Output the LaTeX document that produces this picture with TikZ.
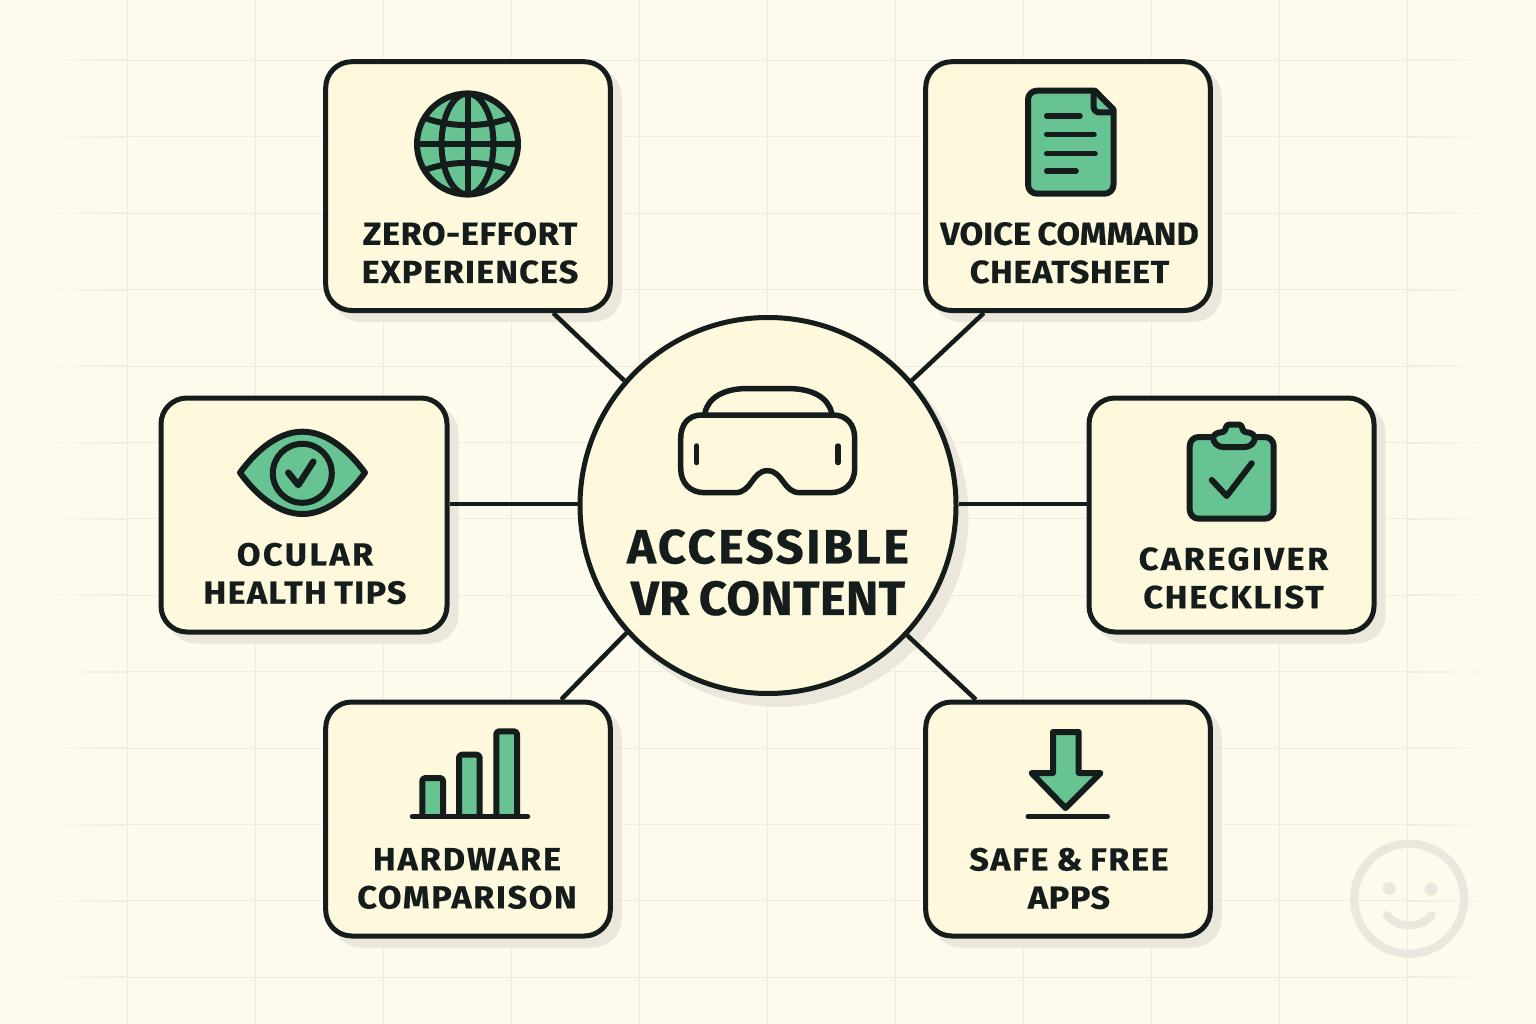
\documentclass[tikz,border=0pt]{standalone}
\usepackage{fontspec}
\newfontfamily\cardfont[FakeStretch=1.07,FakeBold=0.4,WordSpace=0.8]{Fira Sans}
\newfontfamily\hubfont[FakeStretch=1.02,FakeBold=0.5,WordSpace=0.8]{Fira Sans}
\newcommand{\ls}[2]{{\addfontfeature{LetterSpace=#1}#2}}
\definecolor{bgc}{HTML}{FFFBEC}
\definecolor{gridc}{HTML}{EEEBE1}
\definecolor{cardc}{HTML}{FEF8DC}
\definecolor{shadc}{HTML}{EBE7DB}
\definecolor{ink}{HTML}{141C1C}
\definecolor{leaf}{HTML}{67C391}
\definecolor{ghost}{HTML}{EAE8DE}
\tikzset{
  cardbox/.style={draw=ink,line width=5pt,fill=cardc,rounded corners=26pt,inner sep=0pt,
    preaction={fill=shadc,draw=shadc,transform canvas={shift={(9pt,-9pt)}}}},
  hubbox/.style={circle,draw=ink,line width=5pt,fill=cardc,inner sep=0pt,minimum size=376pt,
    preaction={fill=shadc,draw=shadc,transform canvas={shift={(10pt,-11pt)}}}},
  cardlabel/.style={font=\cardfont\bfseries\fontsize{32}{38.2}\selectfont,text=ink,align=center,inner sep=0pt},
  hublabel/.style={font=\hubfont\bfseries\fontsize{48}{51.6}\selectfont,text=ink,align=center,inner sep=0pt},
  link/.style={draw=ink,line width=4.5pt},
  icon/.style={draw=ink,fill=leaf,line width=6pt,line join=round,line cap=round},
  stroke/.style={draw=ink,line width=5.5pt,line cap=round,line join=round},
  gline/.style={draw=ink,line width=6pt},
}
\begin{document}
\begin{tikzpicture}[x=1pt,y=-1pt]
\useasboundingbox (0,0) rectangle (1536,1024);
\fill[bgc] (0,0) rectangle (1536,1024);
% grid
\foreach \gx in {128,256,...,1408}{\fill[gridc] (\gx-1.2,0) rectangle (\gx-0.2,1024);}
\foreach \k in {0,...,12}{
  \pgfmathsetmacro\gy{60.5+76.4*\k}
  \shade[left color=bgc,right color=gridc] (45,\gy-0.5) rectangle (128,\gy+0.5);
  \fill[gridc] (128,\gy-0.5) rectangle (1408,\gy+0.5);
  \shade[left color=gridc,right color=bgc] (1408,\gy-0.5) rectangle (1490,\gy+0.5);
}
% ghost smiley
\draw[ghost,line width=8.3pt] (1409.2,898.7) circle (55);
\fill[ghost] (1389.3,888.3) circle (6.5) (1431,889) circle (6.5);
\draw[ghost,line width=8pt,line cap=round] (1386.7,915) .. controls (1398,929) and (1420,929) .. (1431.7,915);
% cards
\node[cardbox,minimum width=284.6pt,minimum height=248.8pt] (tl) at (468,186.1) {};
\node[cardbox,minimum width=284.6pt,minimum height=248.8pt] (tr) at (1068,186.1) {};
\node[cardbox,minimum width=286pt,minimum height=234pt] (ml) at (304,515) {};
\node[cardbox,minimum width=285pt,minimum height=234pt] (mr) at (1231.5,515) {};
\node[cardbox,minimum width=284.6pt,minimum height=234pt] (bl) at (468,819) {};
\node[cardbox,minimum width=284.6pt,minimum height=234pt] (br) at (1068,819) {};
\node[hubbox] (hub) at (768,505.5) {};
% connectors
\draw[link] ([xshift=230pt]tl.south west) -- (hub.139);
\draw[link] ([xshift=-229pt]tr.south east) -- (hub.41);
\draw[link] ([yshift=1.5pt]ml.east |- hub.center) -- ([yshift=1.5pt]hub.west);
\draw[link] ([yshift=1.5pt]mr.west |- hub.center) -- ([yshift=1.5pt]hub.east);
\draw[link] ([xshift=238pt]bl.north west) -- (hub.222);
\draw[link] ([xshift=-237pt]br.north east) -- (hub.317);
% labels
\node[cardlabel] (ltl) at (470,252.8) {\ls{2}{ZERO-EFFORT}\\\ls{3.6}{EXPERIENCES}};
\node[cardlabel] (ltr) at (1069.5,252.8) {\ls{0}{VOICE COMMAND}\\\ls{2}{CHEATSHEET}};
\node[cardlabel] (lml) at (305,573.5) {\ls{7.6}{OCULAR}\\\ls{4.2}{HEALTH TIPS}};
\node[cardlabel] (lmr) at (1233.5,578) {\ls{7.9}{CAREGIVER}\\\ls{5.5}{CHECKLIST}};
\node[cardlabel] (lbl) at (467,878.5) {\ls{6}{HARDWARE}\\\ls{5}{COMPARISON}};
\node[cardlabel] (lbr) at (1069,878.5) {\ls{5}{SAFE \& FREE}\\\ls{2}{APPS}};
\node[hublabel] (lhub) at (768,572.5) {\ls{5.1}{ACCESSIBLE}\\\ls{0.6}{VR CONTENT}};
% headset
\draw[stroke] (705,413) .. controls (708,397) and (725,389) .. (745,388.6) -- (790,388.6) .. controls (812,389) and (828,397) .. (831.7,413);
\draw[stroke] (701.7,415) -- (833.3,415) .. controls (847,415) and (854.7,425) .. (854.7,438.3) -- (854.7,468.3)
  .. controls (854.7,483) and (845,492.7) .. (830,492.7) -- (800,492.7)
  .. controls (783,492.7) and (783,470.7) .. (767.3,470.7)
  .. controls (752,470.7) and (752,492.7) .. (735,492.7) -- (705,492.7)
  .. controls (690,492.7) and (680.7,483) .. (680.7,468.3) -- (680.7,438.3)
  .. controls (680.7,425) and (688,415) .. (701.7,415) -- cycle;
\draw[stroke] (696.7,446) -- (696.7,462.5);
\draw[stroke] (838,446) -- (838,462.5);
% globe
\draw[icon] (467.5,144) circle (50.5);
\draw[gline] (467.5,93.5) -- (467.5,194.5) (417,144) -- (518,144);
\draw[gline] (467.5,144) ellipse (26 and 50.5);
\draw[gline] (425,118) .. controls (450,127.5) and (485,127.5) .. (510,118);
\draw[gline] (425,170) .. controls (450,160.5) and (485,160.5) .. (510,170);
% document
\draw[icon] (1095,90.7) -- (1037,90.7) .. controls (1032,90.7) and (1028,94.7) .. (1028,99.7) -- (1028,184.7)
  .. controls (1028,189.7) and (1032,193.7) .. (1037,193.7) -- (1104.5,193.7)
  .. controls (1109.5,193.7) and (1113.5,189.7) .. (1113.5,184.7) -- (1113.5,109.5) -- cycle;
\draw[stroke,line width=6pt] (1093.5,91) -- (1093.5,106) .. controls (1093.5,110) and (1096,112.5) .. (1100,112.5) -- (1113,112.5);
\foreach \ya/\xb in {116/1080,134.3/1094,153.7/1095,171/1076}{\draw[stroke] (1046.7,\ya) -- (\xb,\ya);}
% eye
\draw[icon] (240,472.7) .. controls (258,448) and (280,431.7) .. (302.5,431.7) .. controls (325,431.7) and (347,448) .. (365,472.7)
  .. controls (347,497.5) and (325,514) .. (302.5,514) .. controls (280,514) and (258,497.5) .. (240,472.7) -- cycle;
\draw[ink,line width=6pt] (302.3,473.3) circle (29.5);
\draw[stroke,line width=6.5pt] (288.3,472.7) -- (298.3,485) -- (313.3,461.7);
% clipboard
\draw[icon] (1198.7,437) -- (1264.7,437) .. controls (1269.7,437) and (1273.7,441) .. (1273.7,446) -- (1273.7,509.7)
  .. controls (1273.7,514.7) and (1269.7,518.7) .. (1264.7,518.7) -- (1198.7,518.7)
  .. controls (1193.7,518.7) and (1189.7,514.7) .. (1189.7,509.7) -- (1189.7,446)
  .. controls (1189.7,441) and (1193.7,437) .. (1198.7,437) -- cycle;
\draw[icon] (1213,437) .. controls (1215,433) and (1219,432.5) .. (1223,432) .. controls (1226.5,431) and (1225,425) .. (1228.5,424.7) -- (1239.5,424.7)
  .. controls (1243,425) and (1241.5,431) .. (1245,432) .. controls (1249,432.5) and (1253,433) .. (1255,437)
  .. controls (1255,443) and (1250,447) .. (1245,447) -- (1223,447) .. controls (1218,447) and (1213,443) .. (1213,437) -- cycle;
\draw[stroke,line width=6pt] (1211.7,480) -- (1226.7,496) -- (1251.7,463.3);
% bars
\begin{scope}[rounded corners=3pt]
\draw[icon,line cap=butt] (422.3,816.7) -- (422.3,778) -- (443,778) -- (443,816.7);
\draw[icon,line cap=butt] (459,816.7) -- (459,754.7) -- (479.7,754.7) -- (479.7,816.7);
\draw[icon,line cap=butt] (496.3,816.7) -- (496.3,731.3) -- (517,731.3) -- (517,816.7);
\end{scope}
\draw[stroke] (412.5,816.7) -- (527.5,816.7);
% download arrow
\draw[icon] (1053,732) -- (1078.7,732) -- (1078.7,773) -- (1100.5,773) -- (1065.5,808) -- (1031.5,773) -- (1053,773) -- cycle;
\draw[stroke,line width=5pt] (1028,816.7) -- (1107.5,816.7);
\end{tikzpicture}
\end{document}
